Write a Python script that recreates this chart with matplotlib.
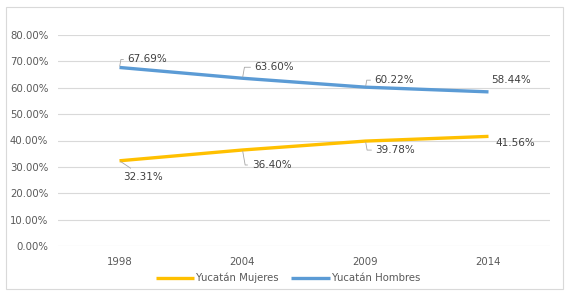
import matplotlib.pyplot as plt
from matplotlib.patches import Rectangle

# data
years = ["1998", "2004", "2009", "2014"]
mujeres = [32.31, 36.40, 39.78, 41.56]
hombres = [67.69, 63.60, 60.22, 58.44]
yticks = [0, 10, 20, 30, 40, 50, 60, 70, 80]

# label offsets in pixels (dx, dy) and whether a leader line is drawn
off_h = [(28, 8), (32, 11), (29, 7), (23, 12)]
lead_h = [True, True, True, False]
off_m = [(24, -16), (29, -15), (30, -9), (27, -7)]
lead_m = [True, True, True, False]

yellow = "#FFC000"
blue = "#5B9BD5"
grid_c = "#D9D9D9"
txt_c = "#404040"

fig = plt.figure(figsize=(5.74, 2.96), dpi=100)
fig.patches.append(Rectangle((6 / 574, 1 - 289 / 296), 557 / 574, 282 / 296,
                             transform=fig.transFigure, fill=False,
                             edgecolor=grid_c, lw=0.8))

ax = fig.add_axes([58 / 574, 50 / 296, 492 / 574, 211 / 296])
x = list(range(len(years)))
l1, = ax.plot(x, mujeres, color=yellow, lw=2.4, solid_capstyle="butt")
l2, = ax.plot(x, hombres, color=blue, lw=2.4, solid_capstyle="butt")

ax.set_xlim(-0.5, len(years) - 0.5)
ax.set_ylim(0, 80)
ax.set_yticks(yticks)
ax.set_yticklabels(["%.2f%%" % t for t in yticks])
ax.set_xticks(x)
ax.set_xticklabels(years)
ax.tick_params(length=0, labelsize=7.3, colors="#595959")
ax.tick_params(axis="y", pad=7)
ax.tick_params(axis="x", pad=8)
ax.grid(axis="y", color=grid_c, lw=0.8)
ax.set_axisbelow(True)
for s in ax.spines.values():
    s.set_visible(False)


def label(series, offs, leads):
    for i, v in enumerate(series):
        dx, dy = offs[i]
        ap = None
        if leads[i]:
            if dy > 0:
                cs = "angle,angleA=0,angleB=80,rad=0"
            elif i == 0:
                cs = "arc3"
            else:
                cs = "angle,angleA=0,angleB=-80,rad=0"
            ap = dict(arrowstyle="-", color="#A6A6A6", lw=0.6,
                      connectionstyle=cs, shrinkA=1, shrinkB=1)
        ax.annotate("%.2f%%" % v, xy=(i, v), xytext=(dx, dy),
                    textcoords="offset pixels", ha="center", va="center",
                    fontsize=7.5, color=txt_c, arrowprops=ap)


label(hombres, off_h, lead_h)
label(mujeres, off_m, lead_m)

fig.legend([l1, l2], ["Yucatán Mujeres", "Yucatán Hombres"],
           loc="center", bbox_to_anchor=(288 / 574, 1 - 278 / 296), ncol=2,
           frameon=False, fontsize=7.3, labelcolor="#595959",
           handlelength=3.8, handletextpad=0.2, columnspacing=1.2)

fig.savefig("out.png", dpi=100)
